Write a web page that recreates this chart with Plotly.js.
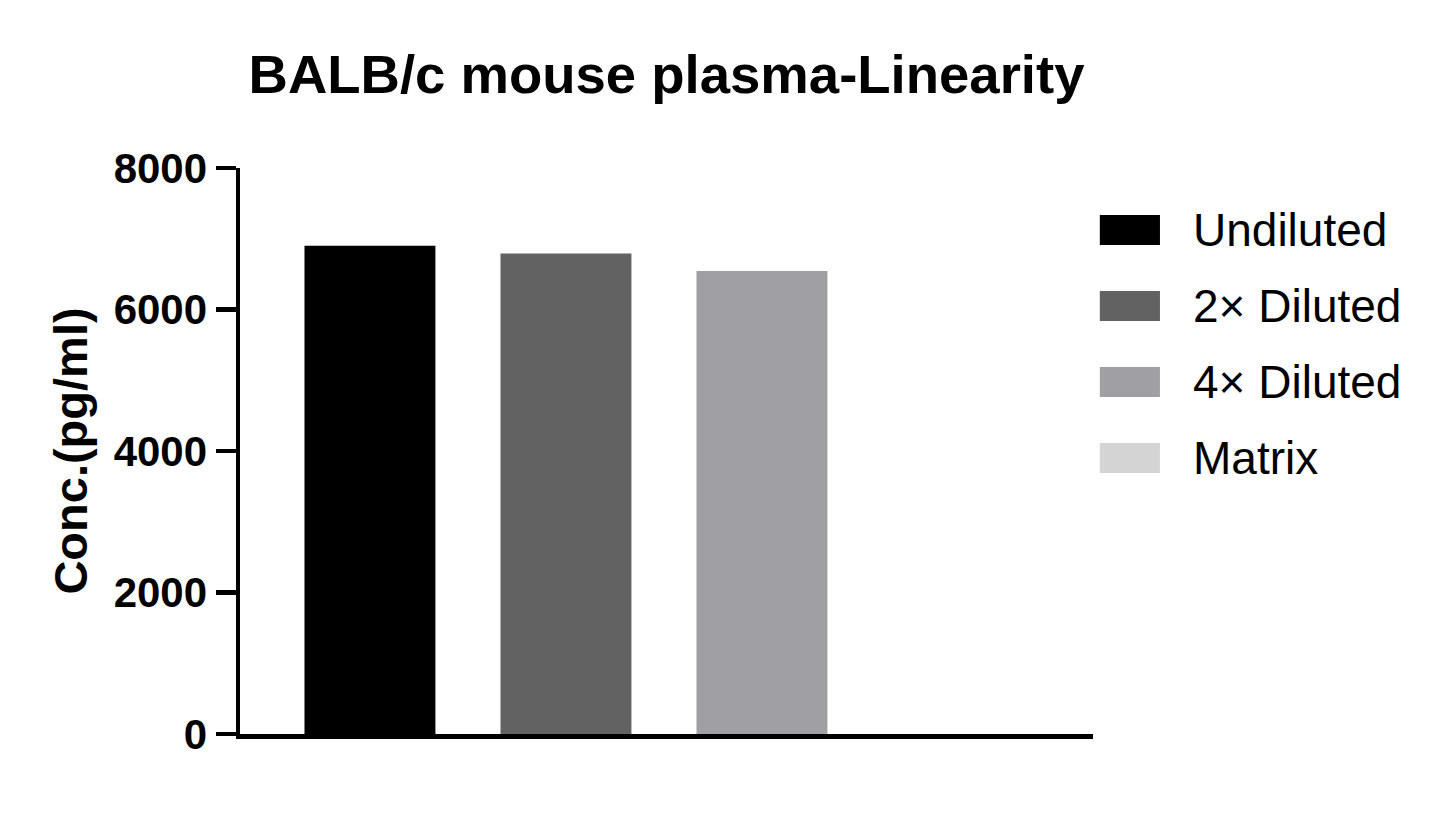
<!DOCTYPE html>
<html>
<head>
<meta charset="utf-8">
<script src="https://cdn.plot.ly/plotly-3.0.1.min.js"></script>
<style>
  body { margin: 0; background: #fff; }
  #graphDiv { width: 1445px; height: 825px; }
</style>
</head>
<body>
<div id="graphDiv"></div>
<script>
// chart data
const categories = ['Undiluted', '2× Diluted', '4× Diluted', 'Matrix'];
const concValues = [6900, 6790, 6545, 0];   // pg/ml
const barColors = ['#000000', '#626262', '#a0a0a4', '#d4d4d4'];
const yTicks = [0, 2000, 4000, 6000, 8000];

function init() {
    let graphDiv = document.getElementById('graphDiv');

    // one trace per sample so each bar gets its own colour
    let data = categories.map(function(name, i) {
        return {
            type: 'bar',
            x: [name],
            y: [concValues[i]],
            name: name,
            width: 0.668,
            marker: {color: barColors[i], line: {width: 0}},
            showlegend: false,
            hoverinfo: 'x+y'
        };
    });

    // legend drawn by hand: wide swatches like the original figure
    let shapes = [];
    let annotations = [];
    categories.forEach(function(name, i) {
        let yTop = 0.917 - i * 0.1343;
        shapes.push({
            type: 'rect', xref: 'paper', yref: 'paper',
            x0: 1.008, x1: 1.0785, y0: yTop - 0.053, y1: yTop,
            fillcolor: barColors[i], line: {width: 0}
        });
        annotations.push({
            xref: 'paper', yref: 'paper',
            x: 1.115, y: yTop - 0.0265,
            xanchor: 'left', yanchor: 'middle',
            text: name, showarrow: false,
            font: {family: 'Liberation Sans, Arial, sans-serif', size: 46, color: '#000'}
        });
    });

    let layout = {
        width: 1445,
        height: 825,
        margin: {l: 240, r: 352, t: 168, b: 91},
        paper_bgcolor: '#fff',
        plot_bgcolor: '#fff',
        barmode: 'overlay',
        showlegend: false,
        font: {family: 'Liberation Sans, Arial, sans-serif', color: '#000'},
        title: {
            text: '<b>BALB/c mouse plasma-Linearity</b>',
            font: {size: 54.5, color: '#000'},
            xref: 'paper', x: 0.5, xanchor: 'center',
            yref: 'container', y: 0.91, yanchor: 'middle'
        },
        xaxis: {
            type: 'category',
            range: [-0.663, 3.689],
            showticklabels: false,
            ticks: '',
            showgrid: false,
            zeroline: false,
            showline: true,
            linecolor: '#000',
            linewidth: 4.5,
            fixedrange: true
        },
        yaxis: {
            range: [0, 8000],
            tickvals: yTicks,
            ticktext: yTicks.map(String),
            ticks: 'outside',
            ticklen: 20,
            tickwidth: 4.5,
            tickcolor: '#000',
            ticklabelstandoff: 0,
            tickfont: {size: 42, color: '#000', weight: 'bold'},
            showgrid: false,
            zeroline: false,
            showline: true,
            linecolor: '#000',
            linewidth: 4.5,
            title: {
                text: '<b>Conc.(pg/ml)</b>',
                font: {size: 47, color: '#000'},
                standoff: 12
            },
            fixedrange: true
        },
        shapes: shapes,
        annotations: annotations
    };

    Plotly.newPlot(graphDiv, data, layout, {displayModeBar: false, staticPlot: true});
}

init();
</script>
</body>
</html>
